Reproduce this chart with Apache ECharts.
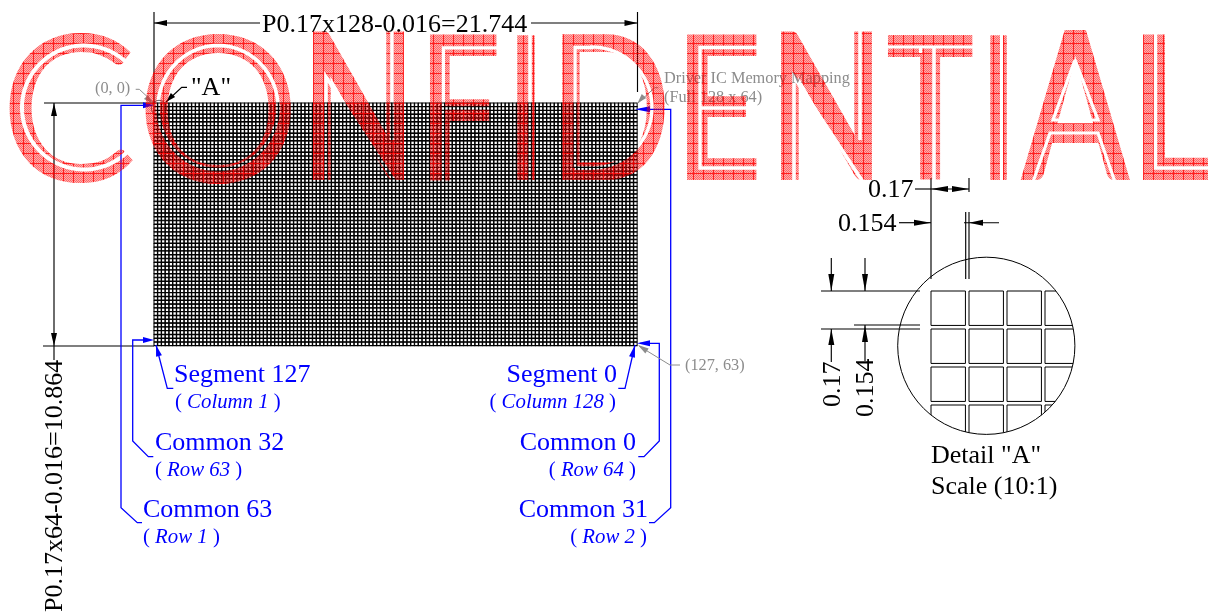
<!DOCTYPE html>
<html><head><meta charset="utf-8">
<style>html,body{margin:0;padding:0;background:#fff}#c{width:1208px;height:615px}</style>
<script src="https://cdn.jsdelivr.net/npm/echarts@6/dist/echarts.min.js"></script>
</head><body><div id="c"></div>
<script>
// ---------- content ----------
const panelColumns = 128;
const panelRows = 64;
const cellRatio = 0.154 / 0.17;
const detailColumns = [0, 1, 2, 3];
const detailRows = [0, 1, 2, 3];
const stampLetters = ['C','O','N','F','I','D','E','N','T','I','A','L'];
const stampWeights = [400,400,700,700,400,400,700,700,700,400,700,700];
const stampStrokes = [2,2,0,0,0,2,0,0,0,0,0,0];
const dimensionTexts = ['P0.17x128-0.016=21.744','"A"','0.17','0.154','Detail "A"','Scale (10:1)'];
const verticalTexts = ['P0.17x64-0.016=10.864','0.17','0.154'];
const noteTexts = ['(0, 0)','Driver IC Memory Mapping','(Full 128 x 64)','(127, 63)'];
const signalNames = ['Segment 127','Common 32','Common 63','Segment 0','Common 0','Common 31'];
const signalNotes = ['Column 1','Row 63','Row 1','Column 128','Row 64','Row 2'];

// ---------- layout (page pixels) ----------
const dimensionAnchors = [[262,25,'left'],[191,88,'left'],[868,190,'left'],[838,224,'left'],[931,456,'left'],[931,487,'left']];
const verticalAnchors = [[55,612],[833,407],[866,417]];
const noteAnchors = [[95,89],[664,79],[664,98],[685,366]];
const signalAnchors = [[174,375,'left'],[155,443,'left'],[143,510,'left'],[617,375,'right'],[636,443,'right'],[648,510,'right']];
const signalNoteAnchors = [[175,403,'left'],[155,471,'left'],[143,538,'left'],[616,403,'right'],[636,471,'right'],[647,538,'right']];
const blackPaths = [
 [[154,12],[154,103]],[[637.5,12],[637.5,92]],[[154,23],[260,23]],[[531,23],[637.5,23]],
 [[44,103],[154,103]],[[54,103],[54,360]],[[43,346],[154,346]],
 [[187,87.3],[181.7,87.3],[166,102]],
 [[915,189],[931,189]],[[931,178],[931,279]],[[969,178],[969,192]],[[931,189],[969,189]],
 [[965.7,212],[965.7,279]],[[969,212],[969,279]],[[899,222.7],[931,222.7]],[[964,222.7],[999,222.7]],
 [[821,291],[920,291]],[[821,329],[920,329]],[[854,325],[920,325]],
 [[831.3,258],[831.3,291]],[[831.3,329],[831.3,362]],[[865,258],[865,291]],[[865,325],[865,361]]
];
const bluePaths = [
 [[150,105.3],[121,105.3],[121,507.7],[137.3,522.7],[142,522.7]],
 [[150,340],[132.7,340],[132.7,441],[148.3,456.7],[153.3,456.7]],
 [[156,345],[167.3,388.3],[173.3,388.3]],
 [[640,109.3],[670.7,109.3],[670.7,507.7],[654.3,522.7],[649,522.7]],
 [[640,343.3],[659.3,343.3],[659.3,441],[644,456.7],[638.3,456.7]],
 [[635,345],[625,388.3],[618.3,388.3]]
];
const grayPaths = [
 [[135.7,89.3],[139.3,89.3],[153,102]],
 [[658.3,87.7],[654.7,87.7],[638,103]],
 [[680,365],[670,365],[639,346]]
];
// arrow: tip, base, colour index (0 black, 1 blue, 2 grey)
const arrows = [
 [154,23,167,23,0],[637.5,23,624.5,23,0],[54,103,54,116,0],[54,346,54,333,0],[166,102,173,95,0],
 [931,189,948,189,0],[969,189,952,189,0],[931,222.7,914,222.7,0],[969,222.7,983,222.7,0],
 [831.3,291,831.3,274,0],[865,291,865,274,0],[831.3,329,831.3,345,0],[865,325,865,342,0],
 [154,105.3,143,105.3,1],[154,340,143,340,1],[156,345,159,356,1],
 [635,109.3,650,109.3,1],[637,343.3,650,343.3,1],[635,345,632,357,1],
 [152,103,146,97,2],[637.5,103.3,644,96,2],[638,345,647,351,2]
];
const smallCircle = [159,108,7.7];
const detailCircle = [986.3,345.8,88.6];
// letter boxes: x0,x1,y0,y1
const stampBoxes = [[9,133,32,183],[145,291,32,183],[313,404,31,180],[430,497,34,180],[517,535,34,180],[562,665,34,180],
 [687,757,34,180],[781,872,31,180],[888,973,34,180],[990,1007,34,180],[1020,1130,30,180],[1143,1212,34,180]];
function ell(cx,cy,rx,ry,a0,a1){const p=[];for(let a=a0;a<=a1+1e-6;a+=3){const t=a*Math.PI/180;p.push([cx+rx*Math.cos(t),cy+ry*Math.sin(t)]);}return p;}
const stampGaps = [
 [ell(84,107.5,62,62,40,320),4],
 [ell(218,107.5,60,62,0,360),3.6],
 [[[326,182],[326,77],[395,182]],3.6],[[[392,30],[392,140]],3.6],
 [[[500,47.8],[443.4,47.8],[443.4,182]],3.2],[[[443.4,108],[500,108]],3.6],
 [[[530,30],[530,182]],3.6],
 [[[575,168],[575,47.5],[592,47.5]].concat(ell(592,107.5,60,60.5,-90,90)).concat([[575,168]]),3.4],
 [[[760,47.5],[700,47.5],[700,168],[760,168]],3.4],[[[700,108],[760,108]],3.6],
 [[[794,182],[794,77],[863,182]],3.6],[[[860,30],[860,140]],3.6],
 [[[886,47],[976,47]],3],[[[934,47],[934,182]],3.6],[[[920.5,47],[920.5,53]],3],
 [[[1001.5,30],[1001.5,182]],3],
 [[[1075,60],[1053,120],[1098,120],[1075,60]],3.2],
 [[[1033,182],[1050,133],[1098,133],[1115,182]],3.2],
 [[[1155.5,30],[1155.5,168],[1214,168]],3.4]
];

// ---------- helpers ----------
const FONT = '"Liberation Serif"';
const base = {type:'custom',silent:true,animation:false,progressive:0,xAxisIndex:0,yAxisIndex:0};
const colors = ['#000','#0000ff','#8c8c8c'];
function idx(n){return Array.from({length:n},(_,i)=>[i]);}
function pathSeries(paths,color,width){
 return Object.assign({},base,{data:idx(paths.length),z:5,renderItem:(p,api)=>({type:'polyline',
  shape:{points:paths[p.dataIndex].map(q=>api.coord(q))},style:{stroke:color,fill:null,lineWidth:width}})});
}
function measure(letter,weight,s){
 const ctx=document.createElement('canvas').getContext('2d');
 ctx.font=weight+' 200px Lato';ctx.textBaseline='middle';ctx.textAlign='left';
 const m=ctx.measureText(letter);
 return {l:-m.actualBoundingBoxLeft-s/2,r:m.actualBoundingBoxRight+s/2,t:-m.actualBoundingBoxAscent-s/2,b:m.actualBoundingBoxDescent+s/2};
}
function hatch(){
 const c=document.createElement('canvas');c.width=10;c.height=10;
 const g=c.getContext('2d');
 for(let y=0;y<10;y++)for(let x=0;x<10;x++){
  // solid-ish red hatch lines, fine checker elsewhere
  if(x===3||y===3) g.fillStyle='rgba(0,0,0,0.12)';
  else g.fillStyle=((x+y)%2===0)?'rgba(0,0,0,0.40)':'rgba(0,0,0,0.68)';
  g.fillRect(x,y,1,1);
 }
 return c;
}
const hatchCanvas=hatch();

const series=[
 // panel cells
 Object.assign({},base,{xAxisIndex:1,yAxisIndex:1,z:2,
  data:(()=>{const d=[];for(let c=0;c<panelColumns;c++)for(let r=0;r<panelRows;r++)d.push([c,r]);return d;})(),
  renderItem:(p,api)=>{const a=api.coord([api.value(0),api.value(1)]),b=api.coord([api.value(0)+cellRatio,api.value(1)+cellRatio]);
   return {type:'rect',shape:{x:a[0],y:a[1],width:b[0]-a[0],height:b[1]-a[1]},style:{fill:null,stroke:'#000',lineWidth:1.05}};}}),
 // detail cells
 Object.assign({},base,{xAxisIndex:2,yAxisIndex:2,z:2,
  data:(()=>{const d=[];for(const c of detailColumns)for(const r of detailRows)d.push([c,r]);return d;})(),
  renderItem:(p,api)=>{const a=api.coord([api.value(0),api.value(1)]),b=api.coord([api.value(0)+cellRatio,api.value(1)+cellRatio]);
   return {type:'rect',shape:{x:a[0],y:a[1],width:b[0]-a[0],height:b[1]-a[1]},
    clipPath:{type:'circle',shape:{cx:detailCircle[0]-a[0],cy:detailCircle[1]-a[1],r:detailCircle[2]},x:a[0],y:a[1]},
    style:{fill:null,stroke:'#000',lineWidth:1}};}}),
 pathSeries(blackPaths,'#000',1.15),
 pathSeries(bluePaths,'#0000ff',1.3),
 pathSeries(grayPaths,'#8c8c8c',1),
 // arrows
 Object.assign({},base,{data:idx(arrows.length),z:6,renderItem:(p,api)=>{
  const [x0,y0,x1,y1,c]=arrows[p.dataIndex];const dx=x1-x0,dy=y1-y0,L=Math.hypot(dx,dy)||1,nx=-dy/L*3,ny=dx/L*3;
  return {type:'polygon',shape:{points:[api.coord([x0,y0]),api.coord([x1+nx,y1+ny]),api.coord([x1-nx,y1-ny])]},style:{fill:colors[c]}};}}),
 // circles
 Object.assign({},base,{data:idx(2),z:6,renderItem:(p,api)=>{
  const k=p.dataIndex===0?smallCircle:detailCircle;const c=api.coord([k[0],k[1]]);
  return {type:'circle',shape:{cx:c[0],cy:c[1],r:k[2]},style:{fill:null,stroke:'#000',lineWidth:p.dataIndex===0?0.6:1}};}}),
 // horizontal black dimension text
 Object.assign({},base,{data:idx(dimensionTexts.length),z:7,renderItem:(p,api)=>{
  const a=dimensionAnchors[p.dataIndex];const c=api.coord([a[0],a[1]]);
  return {type:'text',x:c[0],y:c[1],style:{text:dimensionTexts[p.dataIndex],fill:'#000',font:'26px '+FONT,align:a[2],verticalAlign:'middle'}};}}),
 // rotated dimension text
 Object.assign({},base,{data:idx(verticalTexts.length),z:7,renderItem:(p,api)=>{
  const a=verticalAnchors[p.dataIndex];const c=api.coord([a[0],a[1]]);
  return {type:'text',x:c[0],y:c[1],rotation:Math.PI/2,style:{text:verticalTexts[p.dataIndex],fill:'#000',font:'26px '+FONT,align:'left',verticalAlign:'middle'}};}}),
 // grey notes
 Object.assign({},base,{data:idx(noteTexts.length),z:7,renderItem:(p,api)=>{
  const a=noteAnchors[p.dataIndex];const c=api.coord([a[0],a[1]]);
  return {type:'text',x:c[0],y:c[1],style:{text:noteTexts[p.dataIndex],fill:'#8c8c8c',font:'16.3px '+FONT,align:'left',verticalAlign:'middle'}};}}),
 // blue signals
 Object.assign({},base,{data:idx(signalNames.length),z:7,renderItem:(p,api)=>{
  const a=signalAnchors[p.dataIndex];const c=api.coord([a[0],a[1]]);
  return {type:'text',x:c[0],y:c[1],style:{text:signalNames[p.dataIndex],fill:'#0000ff',font:'26px '+FONT,align:a[2],verticalAlign:'middle'}};}}),
 Object.assign({},base,{data:idx(signalNotes.length),z:7,renderItem:(p,api)=>{
  const a=signalNoteAnchors[p.dataIndex];const c=api.coord([a[0],a[1]]);
  return {type:'text',x:c[0],y:c[1],style:{text:'( {i|'+signalNotes[p.dataIndex]+'} )',fill:'#0000ff',font:'20.8px '+FONT,align:a[2],verticalAlign:'middle',
   rich:{i:{fill:'#0000ff',font:'italic 20.8px '+FONT}}}};}}),
 // stamp: glyphs, then hatch knocked out, then inline gaps, on its own layer
 Object.assign({},base,{zlevel:1,z:10,data:idx(stampLetters.length),renderItem:(p,api)=>{
  const i=p.dataIndex,b=stampBoxes[i],s=stampStrokes[i],m=measure(stampLetters[i],stampWeights[i],s);
  const sx=(b[1]-b[0])/(m.r-m.l),sy=(b[3]-b[2])/(m.b-m.t);
  const o=api.coord([b[0],b[2]]);
  return {type:'text',x:o[0]-m.l*sx,y:o[1]-m.t*sy,scaleX:sx,scaleY:sy,
   style:{text:stampLetters[i],fill:'#ff0000',stroke:s?'#ff0000':null,lineWidth:s,font:stampWeights[i]+' 200px Lato',align:'left',verticalAlign:'middle'}};}}),
 Object.assign({},base,{zlevel:1,z:11,blendMode:'destination-out',data:[[0]],renderItem:(p,api)=>{
  const a=api.coord([0,0]),b=api.coord([1208,615]);
  return {type:'rect',shape:{x:a[0],y:a[1],width:b[0]-a[0],height:b[1]-a[1]},style:{fill:{image:hatchCanvas,repeat:'repeat'}}};}}),
 Object.assign({},base,{zlevel:1,z:12,blendMode:'destination-out',data:idx(stampGaps.length),renderItem:(p,api)=>{
  const g=stampGaps[p.dataIndex];
  return {type:'polyline',shape:{points:g[0].map(q=>api.coord(q))},style:{stroke:'#000',fill:null,lineWidth:g[1]}};}})
];
const hidden={show:false};
const chart=echarts.init(document.getElementById('c'),null,{renderer:'canvas'});
chart.setOption({
 animation:false,
 grid:[{left:0,top:0,width:1208,height:615},{left:154,top:103,width:483.5,height:243},{left:931,top:291,width:152,height:152}],
 xAxis:[
  {type:'value',min:0,max:1208,gridIndex:0,...hidden},
  {type:'value',min:0,max:panelColumns,gridIndex:1,...hidden},
  {type:'value',min:0,max:detailColumns.length,gridIndex:2,...hidden}],
 yAxis:[
  {type:'value',min:0,max:615,inverse:true,gridIndex:0,...hidden},
  {type:'value',min:0,max:panelRows,inverse:true,gridIndex:1,...hidden},
  {type:'value',min:0,max:detailRows.length,inverse:true,gridIndex:2,...hidden}],
 series
});
</script></body></html>
